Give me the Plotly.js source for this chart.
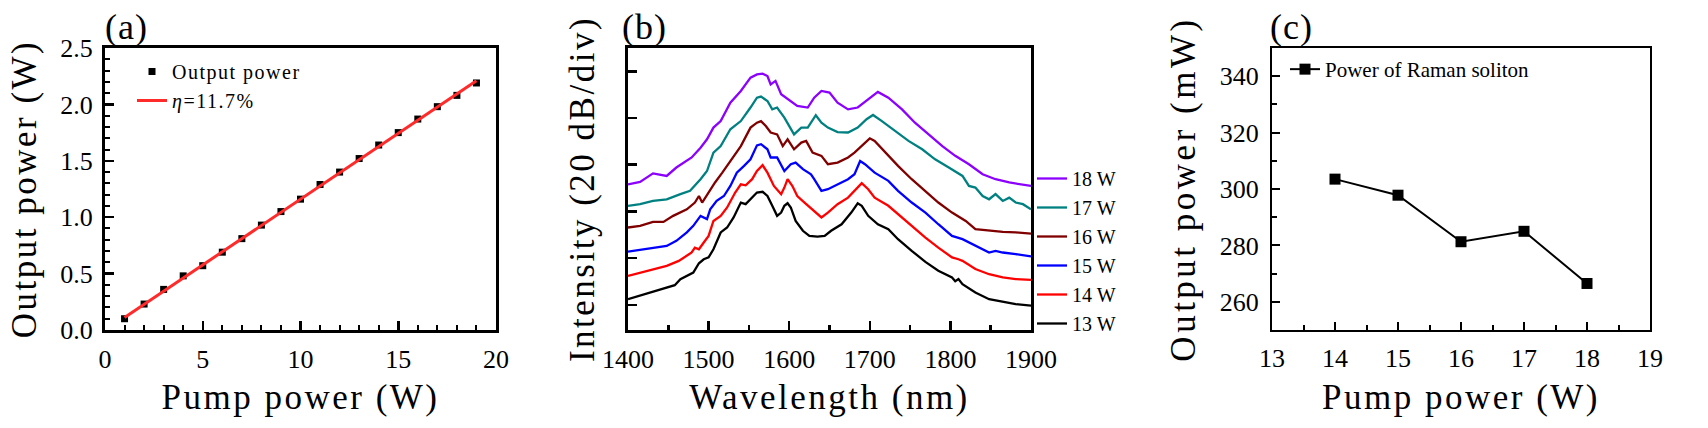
<!DOCTYPE html>
<html>
<head>
<meta charset="utf-8">
<script src="https://cdn.plot.ly/plotly-3.0.1.min.js"></script>
<style>
  html, body { margin: 0; padding: 0; background: #fff; }
  #chart { width: 1708px; height: 428px; }
  text.xtitle, text.x2title, text.x3title, text.ytitle, text.y2title { letter-spacing: 2.5px; }
  text.y3title { letter-spacing: 3.5px; }
  text.legendtext { letter-spacing: 1.5px; }
  text.annotation-text { letter-spacing: 1px; }
</style>
</head>
<body>
<div id="chart"></div>
<script>
// ---------- Panel (a): output power vs pump power ----------
const pumpA = [1, 2, 3, 4, 5, 6, 7, 8, 9, 10, 11, 12, 13, 14, 15, 16, 17, 18, 19];
const outputA = [0.10, 0.23, 0.36, 0.48, 0.57, 0.69, 0.81, 0.93, 1.05, 1.16, 1.29, 1.40, 1.52, 1.64, 1.75, 1.87, 1.98, 2.08, 2.19];
const fitX = [1, 19];
const fitY = [0.11, 2.21];

// ---------- Panel (b): spectra (wavelength nm, relative dB) ----------
const wl13 = [1400,1415,1431,1448,1458,1465,1473,1481,1488,1494,1500,1506,1515,1523,1531,1540,1546,1552,1560,1567,1573,1579,1585,1590,1594,1598,1602,1608,1617,1625,1635,1644,1652,1665,1677,1685,1690,1698,1710,1723,1735,1752,1769,1785,1802,1806,1810,1815,1831,1848,1865,1881,1900];
const db13 = [2.4,3.9,5.6,7.4,8.4,11.0,12.4,13.8,17.8,19.5,20.3,23.8,31.0,33.1,37.4,43.8,43.1,45.2,48.1,48.4,46.6,42.4,38.1,39.5,42.4,43.5,41.7,35.9,31.7,29.5,29.2,29.5,31.7,34.5,39.5,43.5,42.4,38.1,34.5,32.4,28.1,23.1,18.4,14.6,11.7,10.1,11.0,8.8,5.3,2.4,1.3,0.3,-0.4];

const wl14 = [1400,1415,1431,1448,1463,1473,1479,1483,1488,1494,1500,1506,1515,1523,1533,1540,1546,1554,1560,1567,1573,1581,1590,1594,1598,1604,1610,1619,1629,1640,1648,1660,1673,1681,1690,1698,1706,1723,1735,1752,1769,1785,1802,1810,1815,1831,1848,1865,1881,1900];
const db14 = [12.4,13.8,15.3,16.7,18.8,21.0,22.4,24.5,23.8,26.7,29.5,35.9,38.1,41.7,48.1,51.6,51.2,53.8,57.3,59.8,56.6,50.9,47.4,50.2,53.8,50.9,46.6,43.8,40.9,37.4,39.5,43.1,45.9,48.8,52.1,49.5,45.9,42.4,38.8,33.8,28.8,24.5,20.3,19.5,18.8,15.3,13.1,11.7,11.0,10.7];

const wl15 = [1400,1415,1431,1448,1460,1473,1481,1490,1498,1502,1510,1519,1527,1535,1544,1552,1560,1565,1573,1577,1585,1594,1602,1608,1617,1627,1631,1640,1648,1660,1673,1681,1688,1694,1706,1723,1735,1752,1769,1785,1802,1815,1823,1831,1840,1848,1856,1865,1881,1900];
const db15 = [22.8,23.5,24.5,25.2,27.4,31.0,33.8,38.1,36.7,40.9,44.5,46.6,50.9,56.6,59.5,62.3,68.3,68.8,66.6,63.1,63.1,57.3,60.2,60.9,58.1,55.9,53.8,48.8,49.5,51.6,53.8,55.9,61.6,60.2,56.6,53.1,48.8,43.8,39.5,34.5,29.5,28.1,26.7,25.2,23.8,22.4,23.1,22.4,21.7,20.7];

const wl16 = [1400,1415,1431,1444,1456,1473,1483,1488,1492,1500,1508,1517,1527,1540,1552,1560,1565,1571,1577,1585,1592,1598,1606,1615,1621,1629,1640,1648,1660,1673,1681,1690,1700,1706,1719,1735,1752,1769,1785,1802,1819,1831,1848,1865,1881,1900];
const db16 = [33.1,33.8,35.5,35.5,38.1,40.9,43.8,46.6,43.8,48.1,52.4,56.6,61.6,68.0,75.9,78.0,78.7,76.6,73.8,73.0,68.0,70.9,66.6,69.5,70.2,65.2,63.8,60.2,60.9,63.1,65.2,68.0,71.3,70.2,65.2,59.5,53.8,48.8,43.8,39.5,35.9,32.4,31.7,31.2,31.0,30.5];

const wl17 = [1400,1415,1431,1448,1465,1477,1490,1498,1506,1515,1527,1540,1552,1560,1565,1573,1579,1585,1594,1606,1615,1623,1633,1640,1648,1660,1673,1685,1696,1704,1715,1731,1748,1765,1781,1798,1815,1823,1831,1840,1848,1856,1865,1873,1881,1890,1900];
const db17 = [42.4,43.1,44.5,45.2,47.4,48.8,53.8,57.3,65.2,68.0,75.2,78.7,84.5,88.7,89.2,87.3,83.7,84.5,80.2,73.0,75.9,75.9,81.2,78.0,75.9,74.0,73.8,75.9,79.5,81.3,78.7,74.5,70.2,66.6,62.3,58.8,55.2,50.9,50.2,46.6,45.2,47.4,44.5,45.9,43.8,43.1,40.9];

const wl18 = [1400,1415,1431,1448,1460,1473,1479,1490,1498,1506,1515,1527,1540,1552,1560,1567,1573,1577,1583,1590,1602,1610,1623,1631,1640,1650,1660,1673,1685,1698,1710,1723,1740,1756,1773,1790,1806,1823,1840,1856,1873,1890,1900];
const db18 = [51.6,52.6,56.3,55.2,58.8,61.6,63.1,67.3,70.9,75.9,78.7,86.6,91.6,97.3,98.7,99.0,98.0,94.4,95.9,90.2,87.3,85.2,84.5,88.7,91.6,90.9,86.6,83.7,84.5,88.0,91.2,88.7,83.7,78.0,73.0,68.0,63.8,60.2,55.9,53.8,52.4,51.6,50.9];

const specNames = ['18 W', '17 W', '16 W', '15 W', '14 W', '13 W'];
const specColors = ['#8b00ff', '#008080', '#800000', '#0000ff', '#ff0000', '#000000'];
const specX = [wl18, wl17, wl16, wl15, wl14, wl13];
const specY = [db18, db17, db16, db15, db14, db13];

// ---------- Panel (c): Raman soliton power ----------
const pumpC = [14, 15, 16, 17, 18];
const ramanC = [303.5, 297.8, 281.3, 285.0, 266.5];

const FONT = 'Liberation Serif';

const traces = [
  {
    x: pumpA, y: outputA, xaxis: 'x', yaxis: 'y', type: 'scatter', mode: 'markers',
    name: 'Output power', legend: 'legend',
    marker: { symbol: 'square', size: 7, color: '#000' }
  },
  {
    x: fitX, y: fitY, xaxis: 'x', yaxis: 'y', type: 'scatter', mode: 'lines',
    name: '<i>η</i>=11.7%', legend: 'legend',
    line: { color: '#ff2b2b', width: 3 }
  }
];

for (let i = 0; i < specNames.length; i++) {
  traces.push({
    x: specX[i], y: specY[i], xaxis: 'x2', yaxis: 'y2', type: 'scatter', mode: 'lines',
    name: specNames[i], legend: 'legend2',
    line: { color: specColors[i], width: 2.3 }
  });
}

traces.push({
  x: pumpC, y: ramanC, xaxis: 'x3', yaxis: 'y3', type: 'scatter', mode: 'lines+markers',
  name: 'Power of Raman soliton', legend: 'legend3',
  line: { color: '#000', width: 2 },
  marker: { symbol: 'square', size: 11, color: '#000' }
});

const W = 1708, H = 428;
const yDom = [1 - 330 / H, 1 - 48 / H];

function axisBase(extra) {
  return Object.assign({
    showline: true, mirror: true, linecolor: '#000', linewidth: 3,
    ticks: 'inside', ticklen: 9, tickwidth: 2.5, tickcolor: '#000',
    showgrid: false, zeroline: false,
    tickfont: { family: FONT, size: 26, color: '#000' },
    ticklabelstandoff: 4
  }, extra);
}
const titleFont = { family: FONT, size: 35, color: '#000' };

const layout = {
  width: W, height: H,
  margin: { l: 0, r: 0, t: 0, b: 0 },
  paper_bgcolor: '#fff', plot_bgcolor: '#fff',
  font: { family: FONT, color: '#000' },
  xaxis: axisBase({
    domain: [105 / W, 496 / W], anchor: 'y', range: [0, 20], tick0: 0, dtick: 5,
    minor: { dtick: 1, ticks: 'inside', ticklen: 5, tickwidth: 2, tickcolor: '#000' },
    title: { text: 'Pump power (W)', font: titleFont, standoff: 12 }
  }),
  yaxis: axisBase({
    domain: yDom, anchor: 'x', range: [0, 2.5], tick0: 0, dtick: 0.5, tickformat: '.1f',
    minor: { dtick: 0.1, ticks: 'inside', ticklen: 5, tickwidth: 2, tickcolor: '#000' },
    title: { text: 'Output power (W)', font: titleFont, standoff: 14 }
  }),
  xaxis2: axisBase({
    domain: [628 / W, 1031 / W], anchor: 'y2', range: [1400, 1900], tick0: 1400, dtick: 100,
    minor: { dtick: 50, ticks: 'inside', ticklen: 5, tickwidth: 2.5, tickcolor: '#000' },
    title: { text: 'Wavelength (nm)', font: titleFont, standoff: 12 }
  }),
  yaxis2: axisBase({
    domain: yDom, anchor: 'x2', range: [-10.8, 110], tick0: 0, dtick: 20,
    showticklabels: false,
    title: { text: 'Intensity (20 dB/div)', font: titleFont, standoff: 20 }
  }),
  xaxis3: axisBase({
    domain: [1272 / W, 1650 / W], anchor: 'y3', range: [13, 19], tick0: 13, dtick: 1,
    linewidth: 2, tickwidth: 2, ticklen: 8,
    minor: { dtick: 0.5, ticks: 'inside', ticklen: 5, tickwidth: 2, tickcolor: '#000' },
    title: { text: 'Pump power (W)', font: titleFont, standoff: 12 }
  }),
  yaxis3: axisBase({
    domain: yDom, anchor: 'x3', range: [250, 350], tick0: 260, dtick: 20,
    linewidth: 2, tickwidth: 2, ticklen: 8,
    minor: { dtick: 10, ticks: 'inside', ticklen: 5, tickwidth: 2, tickcolor: '#000' },
    ticklabelstandoff: 6,
    title: { text: 'Output power (mW)', font: titleFont, standoff: 14 }
  }),
  legend: {
    x: 132 / W, y: 1 - 52 / H, xanchor: 'left', yanchor: 'top',
    bgcolor: 'rgba(0,0,0,0)', borderwidth: 0,
    font: { family: FONT, size: 20, color: '#000' }
  },
  legend2: {
    x: 1032 / W, y: 1 - 159 / H, xanchor: 'left', yanchor: 'top',
    bgcolor: 'rgba(0,0,0,0)', borderwidth: 0,
    font: { family: FONT, size: 20, color: '#000' }
  },
  legend3: {
    x: 1285 / W, y: 1 - 49 / H, xanchor: 'left', yanchor: 'top',
    bgcolor: 'rgba(0,0,0,0)', borderwidth: 0,
    font: { family: FONT, size: 21, color: '#000' }
  },
  annotations: [
    { text: '(a)', xref: 'paper', yref: 'paper', x: 103 / W, y: 1 - 49 / H, xanchor: 'left', yanchor: 'bottom', showarrow: false, font: { family: FONT, size: 36, color: '#000' } },
    { text: '(b)', xref: 'paper', yref: 'paper', x: 620 / W, y: 1 - 49 / H, xanchor: 'left', yanchor: 'bottom', showarrow: false, font: { family: FONT, size: 36, color: '#000' } },
    { text: '(c)', xref: 'paper', yref: 'paper', x: 1268 / W, y: 1 - 49 / H, xanchor: 'left', yanchor: 'bottom', showarrow: false, font: { family: FONT, size: 36, color: '#000' } }
  ],
  showlegend: true
};

Plotly.newPlot('chart', traces, layout, { staticPlot: true, displayModeBar: false });
</script>
</body>
</html>
